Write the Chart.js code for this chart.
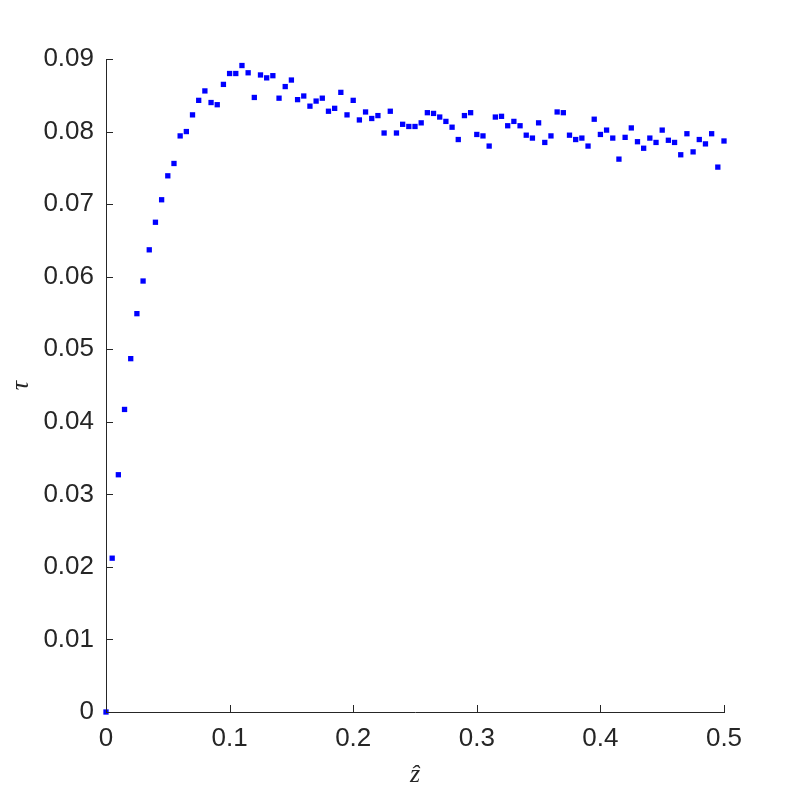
<!DOCTYPE html>
<html>
<head>
<meta charset="utf-8">
<script src="https://cdn.jsdelivr.net/npm/chart.js@4.4.0/dist/chart.umd.min.js"></script>
<style>
  html, body { margin: 0; padding: 0; background: #fff; }
  #wrap { width: 800px; height: 800px; }
</style>
</head>
<body>
<div id="wrap"><canvas id="tau"></canvas></div>
<script>
// z-hat positions
var zHat = [
  0.000, 0.005, 0.010, 0.015, 0.020, 0.025, 0.030, 0.035, 0.040, 0.045,
  0.050, 0.055, 0.060, 0.065, 0.070, 0.075, 0.080, 0.085, 0.090, 0.095,
  0.100, 0.105, 0.110, 0.115, 0.120, 0.125, 0.130, 0.135, 0.140, 0.145,
  0.150, 0.155, 0.160, 0.165, 0.170, 0.175, 0.180, 0.185, 0.190, 0.195,
  0.200, 0.205, 0.210, 0.215, 0.220, 0.225, 0.230, 0.235, 0.240, 0.245,
  0.250, 0.255, 0.260, 0.265, 0.270, 0.275, 0.280, 0.285, 0.290, 0.295,
  0.300, 0.305, 0.310, 0.315, 0.320, 0.325, 0.330, 0.335, 0.340, 0.345,
  0.350, 0.355, 0.360, 0.365, 0.370, 0.375, 0.380, 0.385, 0.390, 0.395,
  0.400, 0.405, 0.410, 0.415, 0.420, 0.425, 0.430, 0.435, 0.440, 0.445,
  0.450, 0.455, 0.460, 0.465, 0.470, 0.475, 0.480, 0.485, 0.490, 0.495,
  0.500
];
// tau values
var tau = [
  0.0000, 0.0212, 0.0327, 0.0417, 0.0487, 0.0549, 0.0594, 0.0637, 0.0675, 0.0706,
  0.0739, 0.0756, 0.0794, 0.0800, 0.0823, 0.0843, 0.0856, 0.0840, 0.0837, 0.0865,
  0.0880, 0.0880, 0.0891, 0.0881, 0.0847, 0.0878, 0.0874, 0.0877, 0.0846, 0.0862,
  0.0871, 0.0844, 0.0849, 0.0835, 0.0842, 0.0846, 0.0828, 0.0832, 0.0854, 0.0823,
  0.0843, 0.0816, 0.0827, 0.0818, 0.0822, 0.0798, 0.0828, 0.0798, 0.0810, 0.0807,
  0.0807, 0.0812, 0.0826, 0.0825, 0.0820, 0.0814, 0.0806, 0.0789, 0.0822, 0.0826,
  0.0796, 0.0794, 0.0780, 0.0820, 0.0821, 0.0808, 0.0814, 0.0808, 0.0795, 0.0791,
  0.0812, 0.0785, 0.0794, 0.0827, 0.0826, 0.0795, 0.0789, 0.0791, 0.0780, 0.0817,
  0.0796, 0.0802, 0.0791, 0.0762, 0.0792, 0.0805, 0.0786, 0.0777, 0.0791, 0.0785,
  0.0802, 0.0788, 0.0785, 0.0768, 0.0797, 0.0772, 0.0789, 0.0783, 0.0797, 0.0751,
  0.0787
];
var xTicks = [0, 0.1, 0.2, 0.3, 0.4, 0.5];
var yTicks = [0, 0.01, 0.02, 0.03, 0.04, 0.05, 0.06, 0.07, 0.08, 0.09];

var axisColor = '#262626';
var pts = zHat.map(function (z, i) { return { x: z, y: tau[i] }; });

// matlab style ticks pointing into the plot
var inTicks = {
  id: 'inTicks',
  afterDraw: function (chart) {
    var ctx = chart.ctx, a = chart.chartArea;
    var xs = chart.scales.x, ys = chart.scales.y;
    ctx.save();
    ctx.strokeStyle = axisColor;
    ctx.lineWidth = 1;
    ctx.beginPath();
    xTicks.forEach(function (v) {
      var px = Math.round(xs.getPixelForValue(v)) + 0.5;
      ctx.moveTo(px, a.bottom);
      ctx.lineTo(px, a.bottom - 7);
    });
    yTicks.forEach(function (v) {
      var py = Math.round(ys.getPixelForValue(v)) + 0.5;
      ctx.moveTo(a.left, py);
      ctx.lineTo(a.left + 7, py);
    });
    ctx.stroke();
    ctx.restore();
  }
};

var tickFont = { family: '"Liberation Sans", Arial, sans-serif', size: 26 };
var titleFont = { family: '"Liberation Serif", "DejaVu Serif", serif', size: 26, style: 'italic' };

var tauChart = new Chart(document.getElementById('tau').getContext('2d'), {
  type: 'scatter',
  data: {
    datasets: [{
      label: 'tau',
      data: pts,
      clip: false,
      pointStyle: 'rect',
      pointRadius: 3.75,
      pointBorderWidth: 0,
      backgroundColor: '#0000ff',
      borderColor: '#0000ff'
    }]
  },
  options: {
    responsive: true,
    maintainAspectRatio: false,
    animation: false,
    layout: { padding: { top: 59, right: 76, left: 0, bottom: 0 } },
    plugins: { legend: { display: false }, tooltip: { enabled: false } },
    scales: {
      x: {
        type: 'linear',
        min: 0,
        max: 0.5,
        afterFit: function (s) { s.height = 88; },
        afterBuildTicks: function (s) { s.ticks = xTicks.map(function (v) { return { value: v }; }); },
        grid: { display: false, drawTicks: false },
        border: { display: true, color: axisColor, width: 1 },
        ticks: {
          color: axisColor,
          font: tickFont,
          padding: 11,
          maxRotation: 0,
          callback: function (v) { return String(+v.toFixed(2)); }
        },
        title: { display: true, text: 'ẑ', color: axisColor, font: titleFont, padding: { top: 0, bottom: 9 } }
      },
      y: {
        type: 'linear',
        min: 0,
        max: 0.09,
        afterFit: function (s) { s.width = 106; },
        afterBuildTicks: function (s) { s.ticks = yTicks.map(function (v) { return { value: v }; }); },
        grid: { display: false, drawTicks: false },
        border: { display: true, color: axisColor, width: 1 },
        ticks: {
          color: axisColor,
          font: tickFont,
          padding: 12,
          callback: function (v) { return String(+v.toFixed(2)); }
        },
        title: { display: true, text: 'τ', color: axisColor, font: titleFont, padding: { top: 6, bottom: 0 } }
      }
    }
  },
  plugins: [inTicks]
});
</script>
</body>
</html>
